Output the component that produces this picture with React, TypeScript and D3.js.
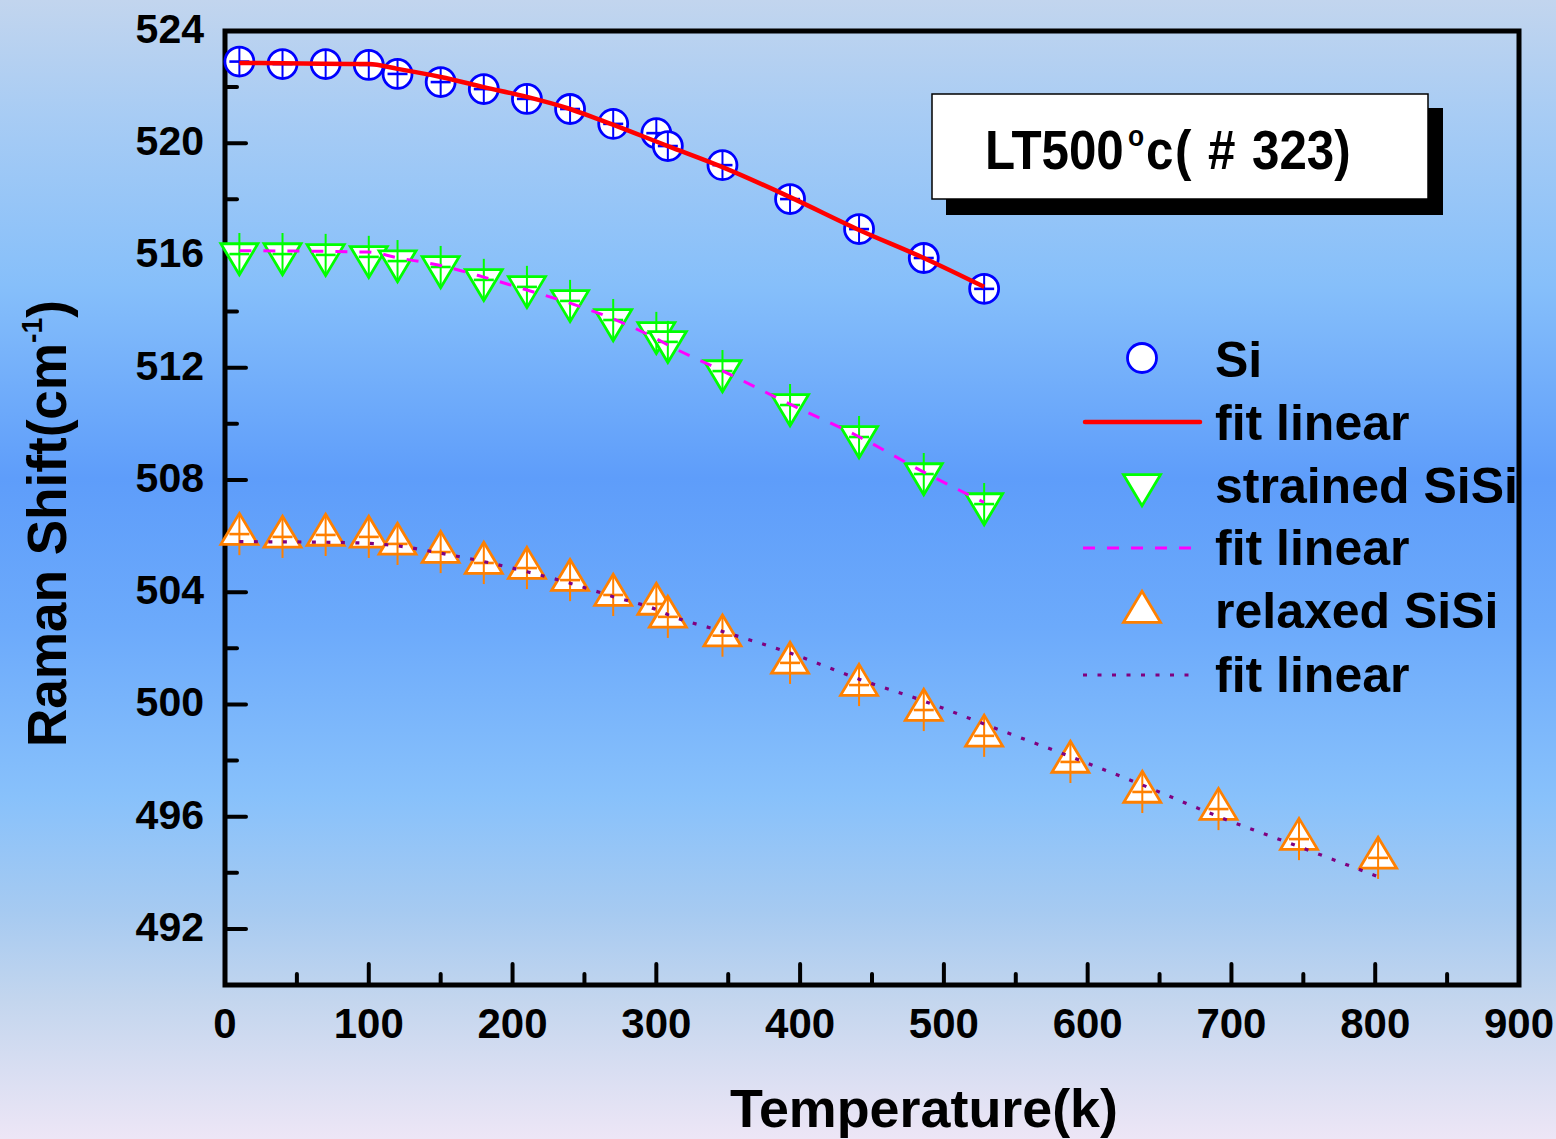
import React from 'react';
import * as d3 from 'd3';

// ---------- data ----------
const temps = [10, 40, 70, 100, 120, 150, 180, 210, 240, 270, 300, 308, 346, 393, 441, 486, 528];
const tempsRelaxed = [10, 40, 70, 100, 120, 150, 180, 210, 240, 270, 300, 308, 346, 393, 441, 486, 528, 588, 638, 691, 747, 802];
const siValues = [522.91, 522.82, 522.82, 522.79, 522.47, 522.18, 521.93, 521.58, 521.22, 520.69, 520.36, 519.9, 519.22, 518.01, 516.94, 515.91, 514.81];
const strainedValues = [516.05, 516.05, 516.02, 515.95, 515.8, 515.59, 515.13, 514.88, 514.38, 513.7, 513.24, 512.92, 511.88, 510.67, 509.53, 508.21, 507.14];
const relaxedValues = [506.07, 505.97, 506.04, 505.97, 505.72, 505.43, 505.04, 504.86, 504.43, 503.9, 503.58, 503.12, 502.45, 501.48, 500.69, 499.8, 498.88, 497.95, 496.88, 496.27, 495.2, 494.53];

const fitSiT = [10, 40, 100, 120, 150, 180, 210, 240, 260, 308, 346, 393, 441, 486, 528];
const fitSiV = [522.86, 522.85, 522.82, 522.65, 522.36, 522.0, 521.65, 521.22, 520.85, 519.9, 519.15, 518.08, 516.91, 515.91, 514.88];
const fitStrT = [10, 100, 120, 150, 180, 210, 240, 270, 300, 308, 346, 393, 441, 486, 528];
const fitStrV = [516.17, 516.12, 515.92, 515.64, 515.23, 514.77, 514.3, 513.74, 513.03, 512.81, 511.89, 510.7, 509.54, 508.28, 507.2];
const fitRelT = [10, 70, 100, 120, 150, 180, 210, 240, 270, 300, 308, 346, 393, 441, 486, 528, 588, 638, 691, 747, 802];
const fitRelV = [505.8, 505.78, 505.74, 505.65, 505.39, 505.09, 504.73, 504.32, 503.84, 503.38, 503.2, 502.6, 501.83, 500.9, 500.12, 499.3, 498.14, 497.13, 496.0, 494.93, 493.86];

const xMajorTicks = [0, 100, 200, 300, 400, 500, 600, 700, 800, 900];
const xMinorTicks = [50, 150, 250, 350, 450, 550, 650, 750, 850];
const yMajorTicks = [492, 496, 500, 504, 508, 512, 516, 520, 524];
const yMinorTicks = [494, 498, 502, 506, 510, 514, 518, 522];

const legendLabels = ['Si', 'fit linear', 'strained SiSi', 'fit linear', 'relaxed SiSi', 'fit linear'];

// ---------- layout ----------
const W = 1556;
const H = 1139;
const FONT = '"Liberation Sans", Arial, Helvetica, sans-serif';

const x = d3.scaleLinear().domain([0, 900]).range([225, 1519]);
const y = d3.scaleLinear().domain([490, 524]).range([985, 31]);

const BLUE = '#0000ff';
const GREEN = '#00ff00';
const ORANGE = '#ff8000';
const RED = '#ff0000';
const MAGENTA = '#ff00ff';
const PURPLE = '#800080';

const downTri = 'M-18.5,-10.3 L18.5,-10.3 L0,20.7 Z';
const upTri = 'M0,-20.7 L18.5,10.3 L-18.5,10.3 Z';

function Marker({ kind, cx, cy }: { kind: string; cx: number; cy: number }) {
  if (kind === 'circle') {
    return <circle cx={cx} cy={cy} r={14.5} fill="#fff" stroke={BLUE} strokeWidth={2.8} />;
  }
  const color = kind === 'down' ? GREEN : ORANGE;
  return (
    <path
      d={kind === 'down' ? downTri : upTri}
      transform={`translate(${cx},${cy})`}
      fill="#fff"
      stroke={color}
      strokeWidth={2.8}
      strokeLinejoin="miter"
    />
  );
}

function Series({ ts, vs, kind, color, err }: { ts: number[]; vs: number[]; kind: string; color: string; err: number }) {
  return (
    <g>
      {ts.map((t, i) => {
        const cx = x(t);
        const cy = y(vs[i]);
        return (
          <g key={i}>
            <Marker kind={kind} cx={cx} cy={cy} />
            <line x1={cx} x2={cx} y1={y(vs[i] + err)} y2={y(vs[i] - err)} stroke={color} strokeWidth={2} />
            <line x1={cx - 10} x2={cx + 10} y1={cy} y2={cy} stroke={color} strokeWidth={2.6} />
          </g>
        );
      })}
    </g>
  );
}

export default function App() {
  const line = d3
    .line<number>()
    .curve(d3.curveMonotoneX);
  const mk = (ts: number[], vs: number[]) => line(ts.map((t, i) => [x(t), y(vs[i])]) as any) || '';

  const legendX = 1142;
  const legendTextX = 1215;
  const legendRows = [358, 422, 490, 548, 607, 675];
  const legendBase = [377, 440, 503, 565, 628, 692];

  // title glyph placement (in scaled text coordinates)
  const sx = 0.88;
  const tx = (px: number) => (px - 985) / sx;

  return (
    <svg
      width={W}
      height={H}
      style={{ position: 'absolute', left: 0, top: 0, display: 'block' }}
      fontFamily={FONT}
    >
      <defs>
        <linearGradient id="bg" x1="0" y1="0" x2="0" y2="1">
          <stop offset="0" stopColor="#c2d5ee" />
          <stop offset="0.1" stopColor="#a8ccf4" />
          <stop offset="0.25" stopColor="#86bffa" />
          <stop offset="0.42" stopColor="#5e9dfa" />
          <stop offset="0.55" stopColor="#6caafb" />
          <stop offset="0.7" stopColor="#88c1fb" />
          <stop offset="0.8" stopColor="#a6caf1" />
          <stop offset="0.88" stopColor="#c4d6ee" />
          <stop offset="1" stopColor="#ede6f6" />
        </linearGradient>
      </defs>
      <rect x={0} y={0} width={W} height={H} fill="url(#bg)" />

      {/* ticks */}
      {xMajorTicks.map((t) => (
        <line key={'xM' + t} x1={x(t)} x2={x(t)} y1={y(490)} y2={y(490) - 21} stroke="#000" strokeWidth={4} strokeLinecap="round" />
      ))}
      {xMinorTicks.map((t) => (
        <line key={'xm' + t} x1={x(t)} x2={x(t)} y1={y(490)} y2={y(490) - 11} stroke="#000" strokeWidth={4} strokeLinecap="round" />
      ))}
      {yMajorTicks.map((v) => (
        <line key={'yM' + v} x1={x(0)} x2={x(0) + 21} y1={y(v)} y2={y(v)} stroke="#000" strokeWidth={4} strokeLinecap="round" />
      ))}
      {yMinorTicks.map((v) => (
        <line key={'ym' + v} x1={x(0)} x2={x(0) + 12} y1={y(v)} y2={y(v)} stroke="#000" strokeWidth={4} strokeLinecap="round" />
      ))}

      {/* frame */}
      <rect x={x(0)} y={y(524)} width={x(900) - x(0)} height={y(490) - y(524)} fill="none" stroke="#000" strokeWidth={5} />

      {/* tick labels */}
      {xMajorTicks.map((t) => (
        <text key={'xl' + t} x={x(t)} y={1038} textAnchor="middle" fontSize={42} fontWeight="bold" fill="#000">
          {t}
        </text>
      ))}
      {yMajorTicks.map((v) => (
        <text key={'yl' + v} x={204} y={y(v) + 12} textAnchor="end" fontSize={41} fontWeight="bold" fill="#000">
          {v}
        </text>
      ))}

      {/* data */}
      <Series ts={temps} vs={siValues} kind="circle" color={BLUE} err={0.52} />
      <Series ts={temps} vs={strainedValues} kind="down" color={GREEN} err={0.75} />
      <Series ts={tempsRelaxed} vs={relaxedValues} kind="up" color={ORANGE} err={0.75} />

      {/* fits */}
      <path d={mk(fitSiT, fitSiV)} fill="none" stroke={RED} strokeWidth={4.5} />
      <path d={mk(fitStrT, fitStrV)} fill="none" stroke={MAGENTA} strokeWidth={3} strokeDasharray="12 12" />
      <path d={mk(fitRelT, fitRelV)} fill="none" stroke={PURPLE} strokeWidth={3.2} strokeDasharray="4 10.5" />

      {/* legend */}
      <Marker kind="circle" cx={legendX} cy={legendRows[0]} />
      <line x1={1085} x2={1200} y1={legendRows[1]} y2={legendRows[1]} stroke={RED} strokeWidth={4.5} strokeLinecap="round" />
      <Marker kind="down" cx={legendX} cy={legendRows[2] - 5} />
      <line x1={1083} x2={1195} y1={legendRows[3]} y2={legendRows[3]} stroke={MAGENTA} strokeWidth={3} strokeDasharray="12 12" />
      <Marker kind="up" cx={legendX} cy={legendRows[4] + 5} />
      <line x1={1083} x2={1192} y1={legendRows[5]} y2={legendRows[5]} stroke={PURPLE} strokeWidth={3.2} strokeDasharray="4 10.5" />
      {legendLabels.map((s, i) => (
        <text key={'lg' + i} x={legendTextX} y={legendBase[i]} fontSize={50} fontWeight="bold" fill="#000">
          {s}
        </text>
      ))}

      {/* title box */}
      <rect x={946} y={108} width={497} height={107} fill="#000" />
      <rect x={932} y={94} width={496} height={105} fill="#fff" stroke="#000" strokeWidth={1.5} />
      <text transform={`translate(985,169) scale(${sx},1)`} fontSize={56} fontWeight="bold" fill="#000">
        <tspan x={0} y={0}>LT500</tspan>
        <tspan x={tx(1128)} y={-23} fontSize={30}>o</tspan>
        <tspan x={tx(1146)} y={0}>c</tspan>
        <tspan x={tx(1175)} y={0}>(</tspan>
        <tspan x={tx(1208)} y={0}>#</tspan>
        <tspan x={tx(1252)} y={0}>323)</tspan>
      </text>

      {/* axis titles */}
      <text x={924} y={1127} textAnchor="middle" fontSize={54} fontWeight="bold" fill="#000" textLength={388} lengthAdjust="spacingAndGlyphs">
        Temperature(k)
      </text>
      <text
        transform="translate(66,747) rotate(-90)"
        x={0}
        y={0}
        fontSize={56}
        fontWeight="bold"
        fill="#000"
        textLength={447}
        lengthAdjust="spacingAndGlyphs"
      >
        Raman Shift(cm
        <tspan fontSize={30} dy={-24}>-1</tspan>
        <tspan dy={24}>)</tspan>
      </text>
    </svg>
  );
}
